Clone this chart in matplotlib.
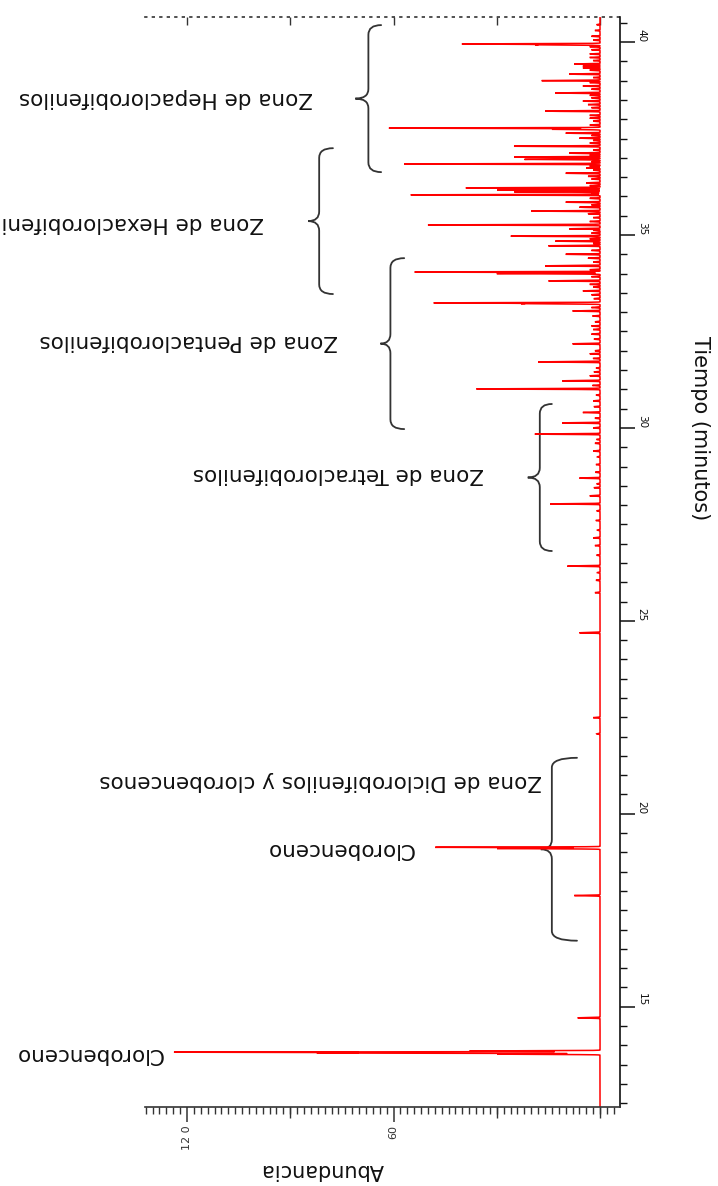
import numpy as np
import matplotlib
matplotlib.use("Agg")
import matplotlib.pyplot as plt
from matplotlib.path import Path
from matplotlib.patches import PathPatch
from matplotlib.ticker import MultipleLocator, FixedLocator, NullFormatter

# ---------------- data ----------------
peak_times = [13.77, 13.80, 13.82, 13.85, 14.71, 17.88, 19.10, 19.13, 22.07, 22.49,
              24.69, 25.73, 26.42, 27.15, 28.03, 28.24, 28.70, 29.40, 29.84, 30.13,
              30.40, 30.70, 31.01, 31.22, 31.35, 31.71, 31.92, 32.18, 32.43, 32.64,
              33.03, 33.22, 33.24, 33.55, 33.81, 34.00, 34.04, 34.20, 34.50, 34.72,
              34.84, 34.97, 35.16, 35.26, 35.62, 35.72, 35.85, 36.04, 36.12, 36.17,
              36.22, 36.35, 36.60, 36.74, 36.84, 36.96, 37.02, 37.12, 37.30, 37.51,
              37.64, 37.74, 37.77, 38.03, 38.21, 38.47, 38.68, 38.86, 39.00, 39.17,
              39.38, 39.43, 39.69, 39.93, 39.95]
peak_heights = [30, 80, 123, 38, 6.5, 7.5, 30, 48, 1, 2,
                6, 1.5, 9.5, 2, 14.5, 3, 6, 2, 19, 11,
                5, 2, 36, 11, 3, 18, 3, 8, 2.5, 2.5,
                8, 22, 48, 5, 15, 30, 54, 16, 10, 15,
                13, 26, 9, 50, 20, 6, 10, 55, 25, 30,
                39, 4, 10, 4, 57, 22, 25, 9, 25, 6,
                10, 14, 61.5, 3, 16, 5, 13, 5, 17, 9,
                5, 7.5, 3, 18, 40]

small_times = [26.05, 26.25, 26.70, 26.95, 27.35, 27.60, 27.85, 28.45, 28.55, 28.85,
               29.05, 29.25, 29.60, 29.70, 30.00, 30.25, 30.55, 30.85, 31.10, 31.45,
               31.55, 31.80, 32.00, 32.30, 32.55, 32.75, 32.90, 33.12, 33.35, 33.45,
               33.65, 33.72, 33.92, 34.10, 34.30, 34.40, 34.60, 34.78, 34.90, 35.05,
               35.12, 35.35, 35.45, 35.55, 35.78, 35.95, 36.08, 36.28, 36.45, 36.52,
               36.68, 36.78, 36.90, 37.07, 37.20, 37.38, 37.45, 37.58, 37.85, 37.95,
               38.10, 38.30, 38.38, 38.55, 38.62, 38.78, 38.95, 39.08, 39.27, 39.33,
               39.52, 39.60, 39.80, 39.88, 40.05, 40.15, 40.30, 40.45]
small_heights = [1.2, 0.8, 1.0, 1.5, 0.8, 1.2, 1.0, 1.8, 1.0, 1.4,
                 1.2, 0.8, 1.5, 1.0, 2.0, 1.5, 1.8, 1.2, 2.2, 1.8,
                 1.2, 2.0, 1.5, 1.8, 2.0, 1.5, 2.2, 2.5, 1.8, 2.5,
                 2.0, 3.0, 2.5, 3.0, 2.0, 3.5, 2.5, 2.0, 3.0, 2.5,
                 2.0, 3.0, 2.0, 3.5, 2.5, 3.0, 2.5, 3.0, 2.5, 3.5,
                 2.0, 3.0, 2.5, 3.0, 2.0, 3.0, 2.0, 2.5, 3.0, 2.0,
                 3.0, 2.5, 3.5, 2.5, 3.0, 2.5, 3.0, 2.0, 3.0, 5.0,
                 2.0, 3.0, 2.5, 3.0, 2.0, 2.5, 1.5, 1.0]

zone_names = ["Zona de Diclorobifenilos y clorobencenos",
              "Zona de Tetraclorobifenilos",
              "Zona de Pentaclorobifenilos",
              "Zona de Hexaclorobifenilos",
              "Zona de Hepaclorobifenilos"]
zone_start = [16.71, 26.81, 29.97, 33.47, 36.63]
zone_end = [21.45, 30.62, 34.40, 37.25, 40.44]

peak_label = "Clorobenceno"
peak_label_times = [13.78, 19.09]

time_ticks = [15, 20, 25, 30, 35, 40]
abund_ticks = [60, 120]
abund_ticklabels = ["60", "12 0"]

# ---------------- layout / style ----------------
plt.rcParams["font.family"] = ["DejaVu Sans"]
fig = plt.figure(figsize=(7.18, 11.86), dpi=100)
ax = fig.add_axes([145 / 718, 1 - 1107 / 1186, 475 / 718, 1090 / 1186])

t = np.arange(12.4, 40.66, 0.0015)
sig = 0.007
trace = np.zeros_like(t)
for tp, h in zip(peak_times + small_times, peak_heights + small_heights):
    trace += h * np.exp(-0.5 * ((t - tp) / sig) ** 2)

ax.plot(trace, t, color="#ff0000", lw=1.1, solid_joinstyle="miter")

ax.set_xlim(132.2, -5.8)
ax.set_ylim(12.4, 40.65)

# spines
ax.spines["left"].set_visible(False)
ax.spines["top"].set_visible(False)
ax.spines["right"].set_color("#111111")
ax.spines["bottom"].set_color("#333333")
ax.spines["right"].set_linewidth(1.2)
ax.spines["bottom"].set_linewidth(1.2)

# time axis on right
ax.yaxis.tick_right()
ax.yaxis.set_major_locator(FixedLocator(time_ticks))
ax.yaxis.set_minor_locator(MultipleLocator(0.5))
ax.tick_params(axis="y", which="major", direction="out", length=11, width=1.1,
               labelsize=7.5, labelrotation=-90, pad=1, colors="#111111")
ax.tick_params(axis="y", which="minor", direction="out", length=5, width=1.0,
               colors="#111111")
for lab in ax.get_yticklabels():
    lab.set_va("bottom")

# abundance axis at bottom
ax.xaxis.set_major_locator(FixedLocator(abund_ticks))
ax.set_xticklabels(abund_ticklabels)
ax.xaxis.set_minor_locator(FixedLocator(np.arange(-4, 133, 2)))
ax.tick_params(axis="x", which="major", direction="out", length=11, width=1.1,
               labelsize=8, labelrotation=90, pad=2, colors="#333333")
ax.tick_params(axis="x", which="minor", direction="out", length=5, width=1.0,
               colors="#333333")

sec_b = ax.secondary_xaxis("bottom")
sec_b.set_xticks([0, 30, 90])
sec_b.xaxis.set_major_formatter(NullFormatter())
sec_b.tick_params(axis="x", length=8, width=1.0, colors="#333333")
for s in sec_b.spines.values():
    s.set_visible(False)

sec_t = ax.secondary_xaxis("top")
sec_t.set_xticks([0, 30, 60, 90, 120])
sec_t.xaxis.set_major_formatter(NullFormatter())
sec_t.tick_params(axis="x", direction="in", length=6, width=1.0, colors="#333333")
sec_t.spines["top"].set_linestyle((0, (1, 3.5)))
sec_t.spines["top"].set_linewidth(1.2)
sec_t.spines["top"].set_color("#333333")

# axis titles
ax.text((700 - 145) / 475, (1107 - 428) / 1090, "Tiempo (minutos)", transform=ax.transAxes,
        rotation=-90, ha="center", va="center", fontsize=15, color="#111111")
ax.text((322 - 145) / 475, (1107 - 1170) / 1090, "Abundancia", transform=ax.transAxes,
        rotation=180, ha="center", va="center", fontsize=15, color="#111111")

# braces
brace_geom = [  # (a_end, a_spine, a_tip)
    (6.7, 14.0, 17.2),
    (14.0, 17.5, 21.0),
    (56.9, 60.9, 63.8),
    (77.6, 81.6, 84.8),
    (63.6, 67.3, 71.1),
]
label_pos = [(16.9, 20.85), (33.8, 28.81), (76.1, 32.25), (97.7, 35.31), (83.4, 38.55)]


def brace(a_end, a_sp, a_tip, t_lo, t_hi):
    t_tip = 0.5 * (t_lo + t_hi)
    c = 0.25
    verts = [(a_end, t_hi), (a_sp, t_hi), (a_sp, t_hi - c),
             (a_sp, t_tip + c),
             (a_sp, t_tip), (a_tip, t_tip),
             (a_sp, t_tip), (a_sp, t_tip - c),
             (a_sp, t_lo + c),
             (a_sp, t_lo), (a_end, t_lo)]
    codes = [Path.MOVETO, Path.CURVE3, Path.CURVE3, Path.LINETO,
             Path.CURVE3, Path.CURVE3, Path.CURVE3, Path.CURVE3,
             Path.LINETO, Path.CURVE3, Path.CURVE3]
    return PathPatch(Path(verts, codes), fill=False, lw=1.3, ec="#333333",
                     capstyle="round", clip_on=False)


for (ae, asp, at), lo, hi in zip(brace_geom, zone_start, zone_end):
    ax.add_patch(brace(ae, asp, at, lo, hi))

for name, (lx, ly) in zip(zone_names, label_pos):
    ax.text(lx, ly, name, rotation=180, ha="right", va="center", fontsize=15.5,
            color="#111111")

ax.text(127.1, peak_label_times[0], peak_label, rotation=180, ha="right", va="center",
        fontsize=15.5, color="#111111")
ax.text(54.2, peak_label_times[1], peak_label, rotation=180, ha="right", va="center",
        fontsize=15.5, color="#111111")

fig.savefig("out.png", dpi=100)
